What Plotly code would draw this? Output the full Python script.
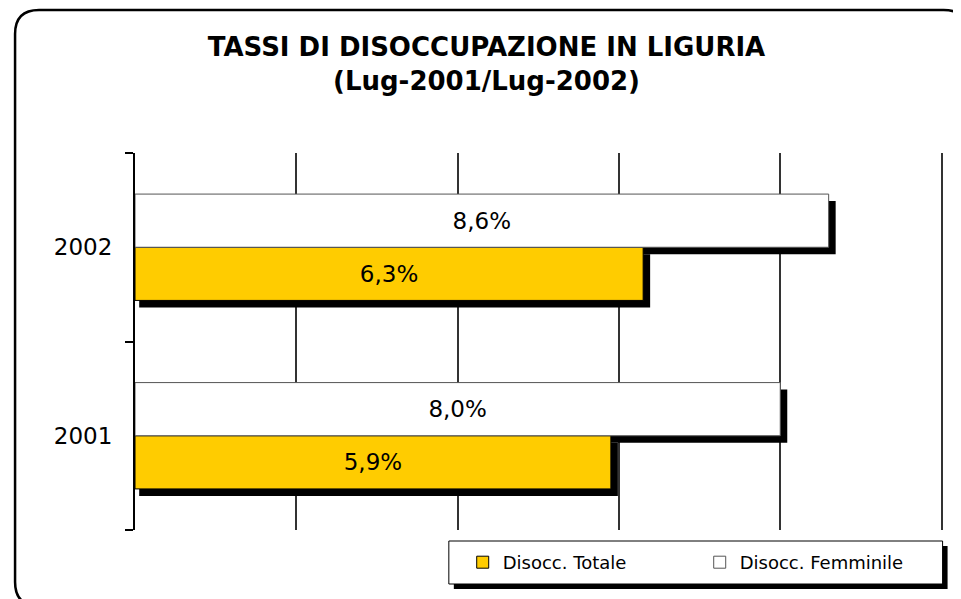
import plotly.graph_objects as go

# ---- data ----
years = ["2001", "2002"]
totale = [5.9, 6.3]
femminile = [8.0, 8.6]
series_names = ["Disocc. Totale", "Disocc. Femminile"]
title_lines = ["TASSI DI DISOCCUPAZIONE IN LIGURIA", "(Lug-2001/Lug-2002)"]

# ---- geometry (page body has an 8px margin; work in screen px, convert) ----
OFF = 8
W, H = 961 - OFF, 599 - OFF
XMAX = 10
XPAD = 1.003                       # tiny extension so the last gridline is drawn
ML, MT, MB = 135 - OFF, 153 - OFF, 69
PW_TARGET = 942 - 135              # pixels for 0..XMAX
PW = PW_TARGET * XPAD
MR = W - ML - PW
PH = H - MT - MB
Y0, Y1 = -0.5, len(years) - 0.5
BARGAP = 0.436
FONT = "DejaVu Sans"


def fmt(v):
    return f"{v:.1f}".replace(".", ",") + "%"


def px_to_paper(sx, sy):
    # screen pixel -> paper coordinates
    x, y = sx - OFF, sy - OFF
    return (x - ML) / PW, (H - MB - y) / PH


ypos = list(range(len(years)))

fig = go.Figure()
fig.add_trace(go.Bar(
    y=ypos, x=totale, orientation="h", name=series_names[0],
    marker=dict(color="#FFCC00", line=dict(color="black", width=1)),
    text=[fmt(v) for v in totale], textposition="inside", insidetextanchor="middle",
    textfont=dict(family=FONT, size=23, color="black"), hoverinfo="skip",
))
fig.add_trace(go.Bar(
    y=ypos, x=femminile, orientation="h", name=series_names[1],
    marker=dict(color="white", line=dict(color="#555555", width=1)),
    text=[fmt(v) for v in femminile], textposition="inside", insidetextanchor="middle",
    textfont=dict(family=FONT, size=23, color="black"), hoverinfo="skip",
))

# ---- bar shadows (derived from data) ----
dx = 7 * XMAX / PW_TARGET
dy = 7 * (Y1 - Y0) / PH
bw = (1 - BARGAP) / 2
shapes = []
for ti, vals in enumerate([totale, femminile]):
    for j, v in enumerate(vals):
        yb = j - (1 - BARGAP) / 2 + ti * bw
        shapes.append(dict(type="rect", xref="x", yref="y", layer="between",
                           x0=dx * 0.6, x1=v + dx, y0=yb - dy, y1=yb + bw - dy,
                           fillcolor="black", line=dict(width=0)))

# ---- outer rounded frame ----
def rounded_path(x0, y0, x1, y1, r):
    def P(x, y):
        a, b = px_to_paper(x, y)
        return f"{a:.5f},{b:.5f}"
    return (f"M {P(x0 + r, y0)} L {P(x1 - r, y0)} Q {P(x1, y0)} {P(x1, y0 + r)} "
            f"L {P(x1, y1 - r)} Q {P(x1, y1)} {P(x1 - r, y1)} "
            f"L {P(x0 + r, y1)} Q {P(x0, y1)} {P(x0, y1 - r)} "
            f"L {P(x0, y0 + r)} Q {P(x0, y0)} {P(x0 + r, y0)} Z")

shapes.append(dict(type="path", xref="paper", yref="paper", layer="above",
                   path=rounded_path(15, 10, 968, 606, 24),
                   line=dict(color="black", width=2.5)))

# ---- legend box + shadow ----
lx0, ly0, lx1, ly1 = 449, 541, 943, 584
for off, fill, lw in [(5, "black", 0), (0, "white", 1)]:
    a0, b0 = px_to_paper(lx0 + off, ly1 + off)
    a1, b1 = px_to_paper(lx1 + off, ly0 + off)
    shapes.append(dict(type="rect", xref="paper", yref="paper", layer="above",
                       x0=a0, x1=a1, y0=b0, y1=b1, fillcolor=fill,
                       line=dict(color="black", width=lw)))

lcx, lcy = px_to_paper((lx0 + lx1) / 2 + 4, (ly0 + ly1) / 2)

fig.update_layout(
    width=W, height=H,
    margin=dict(l=ML, r=MR, t=MT, b=MB),
    paper_bgcolor="white", plot_bgcolor="white",
    barmode="group", bargap=BARGAP, bargroupgap=0,
    font=dict(family=FONT, color="black"),
    title=dict(text="<b>" + "<br>".join(title_lines) + "</b>",
               x=(486.5 - OFF) / W, xanchor="center", xref="container",
               y=1 - 48 / H, yanchor="middle", yref="container",
               font=dict(family=FONT, size=26, color="black")),
    showlegend=True,
    legend=dict(orientation="h", x=lcx, y=lcy, xanchor="center", yanchor="middle",
                xref="paper", yref="paper",
                bgcolor="rgba(0,0,0,0)", borderwidth=0,
                font=dict(family=FONT, size=18, color="black"),
                entrywidth=192, traceorder="normal"),
    shapes=shapes,
    xaxis=dict(range=[0, XMAX * XPAD], dtick=2, showgrid=True, gridcolor="#333333", gridwidth=1.5,
               showticklabels=False, zeroline=False, showline=False, ticks=""),
    yaxis=dict(range=[Y0, Y1], tickvals=ypos, ticktext=years, ticks="",
               ticklabelstandoff=16,
               tickfont=dict(family=FONT, size=23, color="black"),
               showgrid=False, zeroline=False, showline=True, linecolor="black", linewidth=2,
               minor=dict(tickvals=[i - 0.5 for i in range(len(years) + 1)],
                          ticks="outside", ticklen=8, tickcolor="black", tickwidth=2,
                          showgrid=False)),
)

fig.write_html("out.html")
